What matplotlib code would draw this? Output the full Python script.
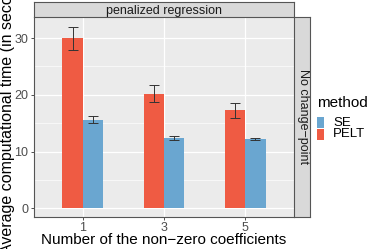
import numpy as np
import matplotlib.pyplot as plt
from matplotlib.patches import Rectangle

plt.rcParams['font.family'] = ['Liberation Sans', 'DejaVu Sans']

# data
n_coef = ["1", "3", "5"]
pelt_mean = [30.0, 20.2, 17.3]
pelt_lo = [27.9, 18.8, 16.0]
pelt_hi = [32.0, 21.7, 18.6]
se_mean = [15.6, 12.35, 12.2]
se_lo = [15.0, 12.1, 12.1]
se_hi = [16.3, 12.7, 12.35]

PELT_COL = '#EF5B43'
SE_COL = '#6AA6D0'
W, H = 374, 249

fig = plt.figure(figsize=(W / 100, H / 100), dpi=100)

def px(x0, y0, x1, y1):
    return [x0 / W, 1 - y1 / H, (x1 - x0) / W, (y1 - y0) / H]

ax = fig.add_axes(px(34, 17, 294, 217))
ax.set_facecolor('#EBEBEB')
x = np.arange(len(n_coef)) + 1
bw = 0.25
ax.bar(x - bw / 2, pelt_mean, bw, color=PELT_COL, zorder=3)
ax.bar(x + bw / 2, se_mean, bw, color=SE_COL, zorder=3)
for xs, m, lo, hi in [(x - bw / 2, pelt_mean, pelt_lo, pelt_hi),
                      (x + bw / 2, se_mean, se_lo, se_hi)]:
    m = np.array(m)
    ax.errorbar(xs, m, yerr=[m - np.array(lo), np.array(hi) - m], fmt='none',
                ecolor='#333333', elinewidth=0.7, capsize=3.5, capthick=0.7, zorder=4)

ax.set_xlim(0.4, 3.6)
ax.set_ylim(-1.5, 33.7)
ax.set_xticks(x)
ax.set_xticklabels(n_coef)
ax.set_yticks([0, 10, 20, 30])
ax.set_yticks([5, 15, 25], minor=True)
ax.set_xticks([], minor=True)
ax.grid(True, which='major', color='white', lw=0.9, zorder=0)
ax.grid(True, which='minor', axis='y', color='white', lw=0.45, zorder=0)
ax.tick_params(axis='both', which='major', length=2.5, width=0.6, color='#333333',
               labelcolor='#4D4D4D', labelsize=9, pad=1.5)
ax.tick_params(axis='x', pad=0.8)
ax.tick_params(which='minor', length=0)
for s in ['top', 'right']:
    ax.spines[s].set_visible(False)
for s in ['left', 'bottom']:
    ax.spines[s].set_color('#555555')
    ax.spines[s].set_linewidth(0.8)

# top strip
axt = fig.add_axes(px(34, 2, 294, 17))
axt.set_facecolor('#D9D9D9')
axt.set_xticks([]); axt.set_yticks([])
for s in axt.spines.values():
    s.set_color('#555555'); s.set_linewidth(0.8)
axt.text(0.5, 0.42, 'penalized regression', ha='center', va='center',
         fontsize=9, color='#1A1A1A', transform=axt.transAxes)

# right strip
axr = fig.add_axes(px(294, 17, 310, 217))
axr.set_facecolor('#D9D9D9')
axr.set_xticks([]); axr.set_yticks([])
for s in axr.spines.values():
    s.set_color('#555555'); s.set_linewidth(0.8)
axr.text(0.58, 0.5, 'No change\u2212point', ha='center', va='center', rotation=-90,
         fontsize=9, color='#1A1A1A', transform=axr.transAxes)

# axis titles
fig.text((34 + 294) / 2 / W, 1 - 244 / H, 'Number of the non\u2212zero coefficients',
         ha='center', va='baseline', fontsize=11)
fig.text(8 / W, 1 - 109 / H, 'Average computational time (in seconds)',
         ha='center', va='center', rotation=90, fontsize=11.5)

# legend
fig.text(317 / W, 1 - 103 / H, 'method', ha='left', va='center', fontsize=11)
for i, (lab, col) in enumerate([('SE', SE_COL), ('PELT', PELT_COL)]):
    y0 = 117 + i * 11.5
    fig.patches.append(Rectangle((317 / W, 1 - (y0 + 11) / H), 7 / W, 11 / H,
                                 transform=fig.transFigure, facecolor=col,
                                 edgecolor='none'))
    fig.text(333 / W, 1 - (y0 + 5.5) / H, lab, ha='left', va='center', fontsize=9.5)

fig.savefig('out.png', dpi=100)
